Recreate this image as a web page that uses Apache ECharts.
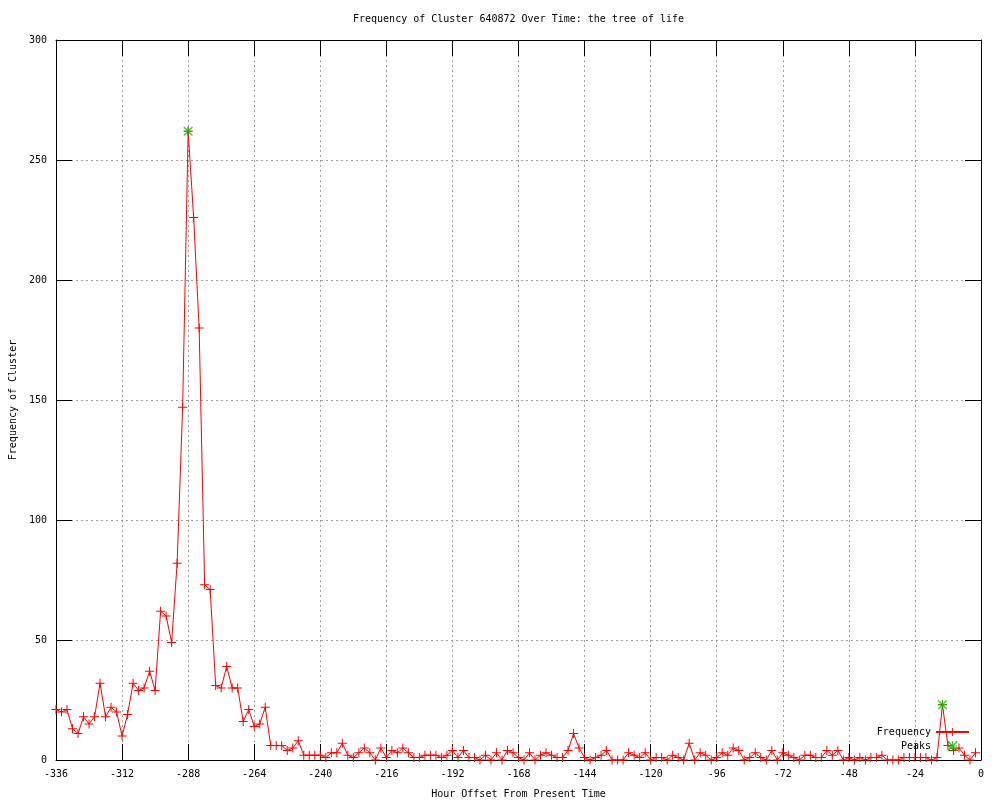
<!DOCTYPE html>
<html>
<head>
<meta charset="utf-8">
<script src="https://cdn.jsdelivr.net/npm/echarts@6/dist/echarts.min.js"></script>
<style>html,body{margin:0;padding:0;background:#fff}#c{width:1000px;height:800px}</style>
</head>
<body>
<div id="c"></div>
<script>
const hours = [-336,-334,-332,-330,-328,-326,-324,-322,-320,-318,-316,-314,
-312,-310,-308,-306,-304,-302,-300,-298,-296,-294,-292,-290,
-288,-286,-284,-282,-280,-278,-276,-274,-272,-270,-268,-266,
-264,-262,-260,-258,-256,-254,-252,-250,-248,-246,-244,-242,
-240,-238,-236,-234,-232,-230,-228,-226,-224,-222,-220,-218,
-216,-214,-212,-210,-208,-206,-204,-202,-200,-198,-196,-194,
-192,-190,-188,-186,-184,-182,-180,-178,-176,-174,-172,-170,
-168,-166,-164,-162,-160,-158,-156,-154,-152,-150,-148,-146,
-144,-142,-140,-138,-136,-134,-132,-130,-128,-126,-124,-122,
-120,-118,-116,-114,-112,-110,-108,-106,-104,-102,-100,-98,
-96,-94,-92,-90,-88,-86,-84,-82,-80,-78,-76,-74,
-72,-70,-68,-66,-64,-62,-60,-58,-56,-54,-52,-50,
-48,-46,-44,-42,-40,-38,-36,-34,-32,-30,-28,-26,
-24,-22,-20,-18,-16,-14,-12,-10,-8,-6,-4,-2];
const frequency = [21,20,21,13,11,18,15,18,32,18,22,20,
10,19,32,29,30,37,29,62,60,49,82,147,
262,226,180,73,71,31,30,39,30,30,16,21,
14,15,22,6,6,6,4,5,8,2,2,2,
2,1,3,3,7,2,1,3,5,3,0,5,
1,4,3,5,3,1,1,2,2,2,1,2,
4,1,4,1,1,0,2,0,3,0,4,3,
1,0,3,0,2,3,2,1,1,4,11,5,
1,0,1,2,4,0,0,0,3,2,1,3,
0,1,1,0,2,1,0,7,0,3,2,0,
1,3,2,5,4,0,1,3,1,0,4,0,
3,2,1,0,2,2,1,1,4,2,4,0,
1,0,1,0,1,1,2,0,0,0,1,1,
1,1,1,0,1,23,6,4,5,2,0,3];
const peakHours = [-288, -14];
const peakValues = [262, 23];
const xTicks = [-336,-312,-288,-264,-240,-216,-192,-168,-144,-120,-96,-72,-48,-24,0];
const yTicks = [0,50,100,150,200,250,300];

const FONT = 'DejaVu Sans Mono';
const plusPath = 'path://M0,4H9V5H0Z M4,0H5V9H4Z';
const starPath = 'path://M0,4H9V5H0Z M4,0H5V9H4Z M0,0L1,0L9,8L9,9L8,9L0,1Z M8,0L9,0L9,1L1,9L0,9L0,8Z';

const chart = echarts.init(document.getElementById('c'), null, {renderer: 'canvas'});
const tickCommon = {show: true, inside: true, length: 16, lineStyle: {color: '#000', width: 1}};
const gridLine = {show: true, lineStyle: {color: '#a0a0a0', width: 1, type: [2, 3]}};
chart.setOption({
  animation: false,
  backgroundColor: '#fff',
  title: {
    text: 'Frequency of Cluster 640872 Over Time: the tree of life',
    left: 353, top: 14, padding: 0,
    textStyle: {fontFamily: FONT, fontSize: 10, fontWeight: 'normal', color: '#000'}
  },
  legend: {
    orient: 'vertical', align: 'right', right: 30, top: 727,
    itemWidth: 33, itemHeight: 10, itemGap: 4, padding: 0,
    textStyle: {fontFamily: FONT, fontSize: 10, color: '#000'},
    data: [{name: 'Frequency'}, {name: 'Peaks', icon: starPath}]
  },
  grid: {left: 56, right: 19, top: 40, bottom: 40, containLabel: false, outerBoundsMode: 'none'},
  xAxis: [{
    type: 'value', position: 'bottom', min: xTicks[0], max: xTicks[xTicks.length-1], interval: 24,
    name: 'Hour Offset From Present Time', nameLocation: 'middle', nameGap: 29,
    nameTextStyle: {fontFamily: FONT, fontSize: 10, color: '#000'},
    axisLine: {show: true, onZero: false, lineStyle: {color: '#000', width: 1}},
    axisTick: tickCommon,
    axisLabel: {fontFamily: FONT, fontSize: 10, color: '#000', margin: 9},
    splitLine: gridLine
  }, {
    type: 'value', position: 'top', min: xTicks[0], max: xTicks[xTicks.length-1], interval: 24,
    axisLine: {show: true, onZero: false, lineStyle: {color: '#000', width: 1}},
    axisTick: tickCommon, axisLabel: {show: false}, splitLine: {show: false}
  }],
  yAxis: [{
    type: 'value', position: 'left', min: yTicks[0], max: yTicks[yTicks.length-1], interval: 50,
    name: 'Frequency of Cluster', nameLocation: 'middle', nameGap: 38, nameRotate: 90,
    nameTextStyle: {fontFamily: FONT, fontSize: 10, color: '#000'},
    axisLine: {show: true, onZero: false, lineStyle: {color: '#000', width: 1}},
    axisTick: tickCommon,
    axisLabel: {fontFamily: FONT, fontSize: 10, color: '#000', margin: 9},
    splitLine: gridLine
  }, {
    type: 'value', position: 'right', min: yTicks[0], max: yTicks[yTicks.length-1], interval: 50,
    axisLine: {show: true, onZero: false, lineStyle: {color: '#000', width: 1}},
    axisTick: tickCommon, axisLabel: {show: false}, splitLine: {show: false}
  }],
  series: [{
    name: 'Frequency', type: 'line',
    data: hours.map((h, i) => [h, frequency[i]]),
    symbol: plusPath, symbolSize: 9, showAllSymbol: true,
    lineStyle: {color: '#ff0000', width: 1},
    itemStyle: {color: '#ff0000', borderWidth: 0},
    clip: false
  }, {
    name: 'Peaks', type: 'scatter',
    data: peakHours.map((h, i) => [h, peakValues[i]]),
    symbol: starPath, symbolSize: 9,
    itemStyle: {color: '#00c000', borderWidth: 0},
    z: 3
  }]
});
</script>
</body>
</html>
